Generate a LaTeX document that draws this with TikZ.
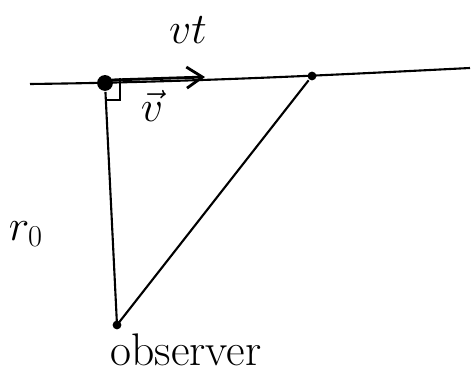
\documentclass[tikz,border=0pt]{standalone}
\usetikzlibrary{arrows.meta}
\begin{document}
\begin{tikzpicture}[x=0.02cm, y=-0.02cm, line width=1.2pt,
  dot/.style={circle, fill=black, inner sep=0pt},
  lbl/.style={font=\fontsize{24}{28}\selectfont, inner sep=0pt}]
\useasboundingbox (0,0) rectangle (471,374);
% path of the source
\coordinate (left) at (30,84);
\coordinate (right) at (470,68);
\draw (left) .. controls (200,82) and (350,74) .. (right);
\node[dot, minimum size=9pt] (src) at (105,83) {};
\node[dot, minimum size=5pt] (pos) at (312,76) {};
\coordinate (obs) at (117,325);
\node[dot, minimum size=5pt] (obsdot) at (obs) {};
% triangle
\draw (src) -- (obs) -- (pos);
% right angle
\draw[line width=0.8pt] (120,78) -- (120,100) -- (106,100);
% velocity
\coordinate (vstart) at (112,80);
\coordinate (vend) at (205,77);
\draw[line width=1.6pt, -{Straight Barb[length=9pt, width=12pt]}] (vstart) -- (vend);
\node[lbl, font=\fontsize{24}{28}\selectfont] (vel) at (152,106) {$\vec{v}$};
\node[lbl, font=\fontsize{36}{40}\selectfont] (vt) at (188,30) {$vt$};
\node[lbl, font=\fontsize{26}{30}\selectfont] (r0) at (26,234) {$r_0$};
\node[lbl, font=\fontsize{26}{30}\selectfont] (obslbl) at (186,350) {observer};
\end{tikzpicture}
\end{document}
